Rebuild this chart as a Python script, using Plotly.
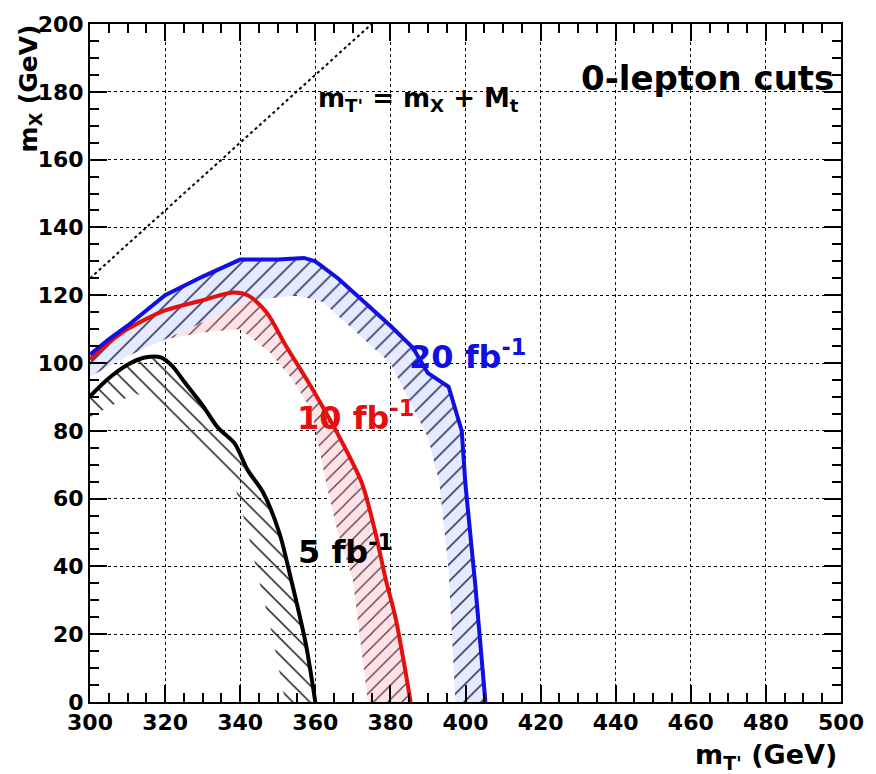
import plotly.graph_objects as go

# Exclusion contours in the (m_T', m_X) plane, 0-lepton selection
# 20 fb^-1 contour and the inner edge of its hatched band
mt_20 = [300, 305, 310, 320, 330, 340, 350, 357, 360, 366, 372, 380, 386, 390, 395.5, 399, 400, 402.6, 405.3]
mx_20 = [102.5, 107, 111, 120, 125.5, 130.5, 130.5, 131, 130, 125, 119, 111, 104.5, 97, 93, 80, 64, 34.6, 0]
mt_20_in = [300, 310, 320, 330, 340, 355, 362, 372, 380, 385, 390, 393, 395.5, 397.3]
mx_20_in = [96, 102, 107, 112, 118, 120, 118, 108, 100, 89, 78, 65, 39, 0]

# 10 fb^-1 contour and band edge
mt_10 = [300, 305, 310, 320, 330, 338, 342, 347, 352, 358, 362, 366, 372.4, 376, 378.8, 381.4, 385.4]
mx_10 = [101, 106, 110, 115.5, 118.5, 120.8, 120, 115, 105.4, 94.6, 87, 79, 64.6, 50, 36, 24.7, 0]
mt_10_in = [300, 310, 320, 330, 340, 348, 354, 359, 361, 363, 366, 370, 374]
mx_10_in = [96, 103, 107, 109, 110, 103, 95, 86, 75, 64, 50, 36, 0]

# 5 fb^-1 contour and band edge
mt_5 = [300, 305, 310, 314.6, 319, 322, 325, 330, 334, 338.5, 342, 346, 350.4, 353.8, 357.5, 360]
mx_5 = [90.2, 95.5, 99.5, 101.6, 101.6, 99, 94.6, 87.5, 81, 76.3, 68.4, 62, 50, 35, 17, 0]
mt_5_in = [300, 305, 312, 318, 321, 328, 334, 339, 342, 345, 348.5, 352]
mx_5_in = [84, 87, 91, 89, 86, 78, 70, 62, 50, 36, 20, 0]

# kinematic boundary m_T' = m_X + M_t
mt_kin = [300, 375]
mx_kin = [125, 200]

x_ticks = [300, 320, 340, 360, 380, 400, 420, 440, 460, 480, 500]
y_ticks = [0, 20, 40, 60, 80, 100, 120, 140, 160, 180, 200]

FONT = "DejaVu Sans, Liberation Sans, Arial, sans-serif"
BLUE = "#1010e0"
RED = "#e41010"

fig = go.Figure()


def band(xo, yo, xi, yi, shape, fg, bg, size):
    return go.Scatter(
        x=list(xo) + list(xi)[::-1],
        y=list(yo) + list(yi)[::-1],
        mode="lines",
        line=dict(width=0),
        fill="toself",
        fillcolor=bg,
        fillpattern=dict(shape=shape, fgcolor=fg, bgcolor=bg, size=size,
                         solidity=0.12, fillmode="replace"),
        hoverinfo="skip",
        showlegend=False,
    )


fig.add_trace(band(mt_5, mx_5, mt_5_in, mx_5_in, "\\", "#111111", "rgba(255,255,255,0)", 12))
fig.add_trace(band(mt_10, mx_10, mt_10_in, mx_10_in, "/", "#5a2a40", "#fde3e6", 10))
fig.add_trace(band(mt_20, mx_20, mt_20_in, mx_20_in, "/", "#1c1c4c", "#e5ebff", 12))

fig.add_trace(go.Scatter(x=mt_kin, y=mx_kin, mode="lines",
                         line=dict(color="black", width=2, dash="dot"),
                         showlegend=False, hoverinfo="skip"))
fig.add_trace(go.Scatter(x=mt_5, y=mx_5, mode="lines",
                         line=dict(color="black", width=4, shape="spline", smoothing=0.8),
                         showlegend=False))
fig.add_trace(go.Scatter(x=mt_10, y=mx_10, mode="lines",
                         line=dict(color=RED, width=4, shape="spline", smoothing=0.8),
                         showlegend=False))
fig.add_trace(go.Scatter(x=mt_20, y=mx_20, mode="lines",
                         line=dict(color=BLUE, width=4), showlegend=False))

axis_common = dict(
    showline=True, linecolor="black", linewidth=2, mirror="allticks",
    ticks="inside", ticklen=17, tickwidth=2, tickcolor="black",
    showgrid=True, gridcolor="black", griddash="dot", gridwidth=1.2,
    zeroline=False,
    tickfont=dict(family=FONT, size=22, color="black", weight="bold"),
    minor=dict(ticks="inside", ticklen=9, tickwidth=1.5, tickcolor="black",
               dtick=5, showgrid=False),
)

fig.update_xaxes(range=[300, 500], tickvals=x_ticks, ticktext=[str(v) for v in x_ticks],
                 **axis_common)
fig.update_yaxes(range=[0, 200], tickvals=y_ticks, ticktext=[str(v) for v in y_ticks],
                 **axis_common)


def ann_font(size, color):
    return dict(family=FONT, size=size, color=color, weight="bold")


fig.add_annotation(x=400.5, y=102.5, xref="x", yref="y", text="20 fb<sup>-1</sup>",
                   showarrow=False, font=ann_font(32, BLUE))
fig.add_annotation(x=370.6, y=84.4, xref="x", yref="y", text="10 fb<sup>-1</sup>",
                   showarrow=False, font=ann_font(32, RED))
fig.add_annotation(x=368, y=44.8, xref="x", yref="y", text="5 fb<sup>-1</sup>",
                   showarrow=False, font=ann_font(32, "black"))
fig.add_annotation(x=464.5, y=184, xref="x", yref="y", text="0-lepton cuts",
                   showarrow=False, font=ann_font(34, "black"))
fig.add_annotation(x=387.5, y=177.6, xref="x", yref="y",
                   text="m<sub>T'</sub> = m<sub>X</sub> + M<sub>t</sub>",
                   showarrow=False, font=ann_font(26, "black"))

# axis titles, placed at the far ends of the axes
fig.add_annotation(x=500, y=0, xref="x", yref="paper", xanchor="right",
                   yanchor="middle", xshift=-2, yshift=-54, text="m<sub>T'</sub> (GeV)",
                   showarrow=False, font=ann_font(27, "black"))
fig.add_annotation(x=0, y=181.0, xref="paper", yref="y", xanchor="center",
                   yanchor="middle", xshift=-60, textangle=-90,
                   text="m<sub>X</sub> (GeV)", showarrow=False,
                   font=ann_font(25, "black"))

fig.update_layout(
    width=876, height=774,
    margin=dict(l=90, r=32, t=15, b=72),
    plot_bgcolor="white", paper_bgcolor="white",
    showlegend=False,
)

fig.write_html("out.html")
